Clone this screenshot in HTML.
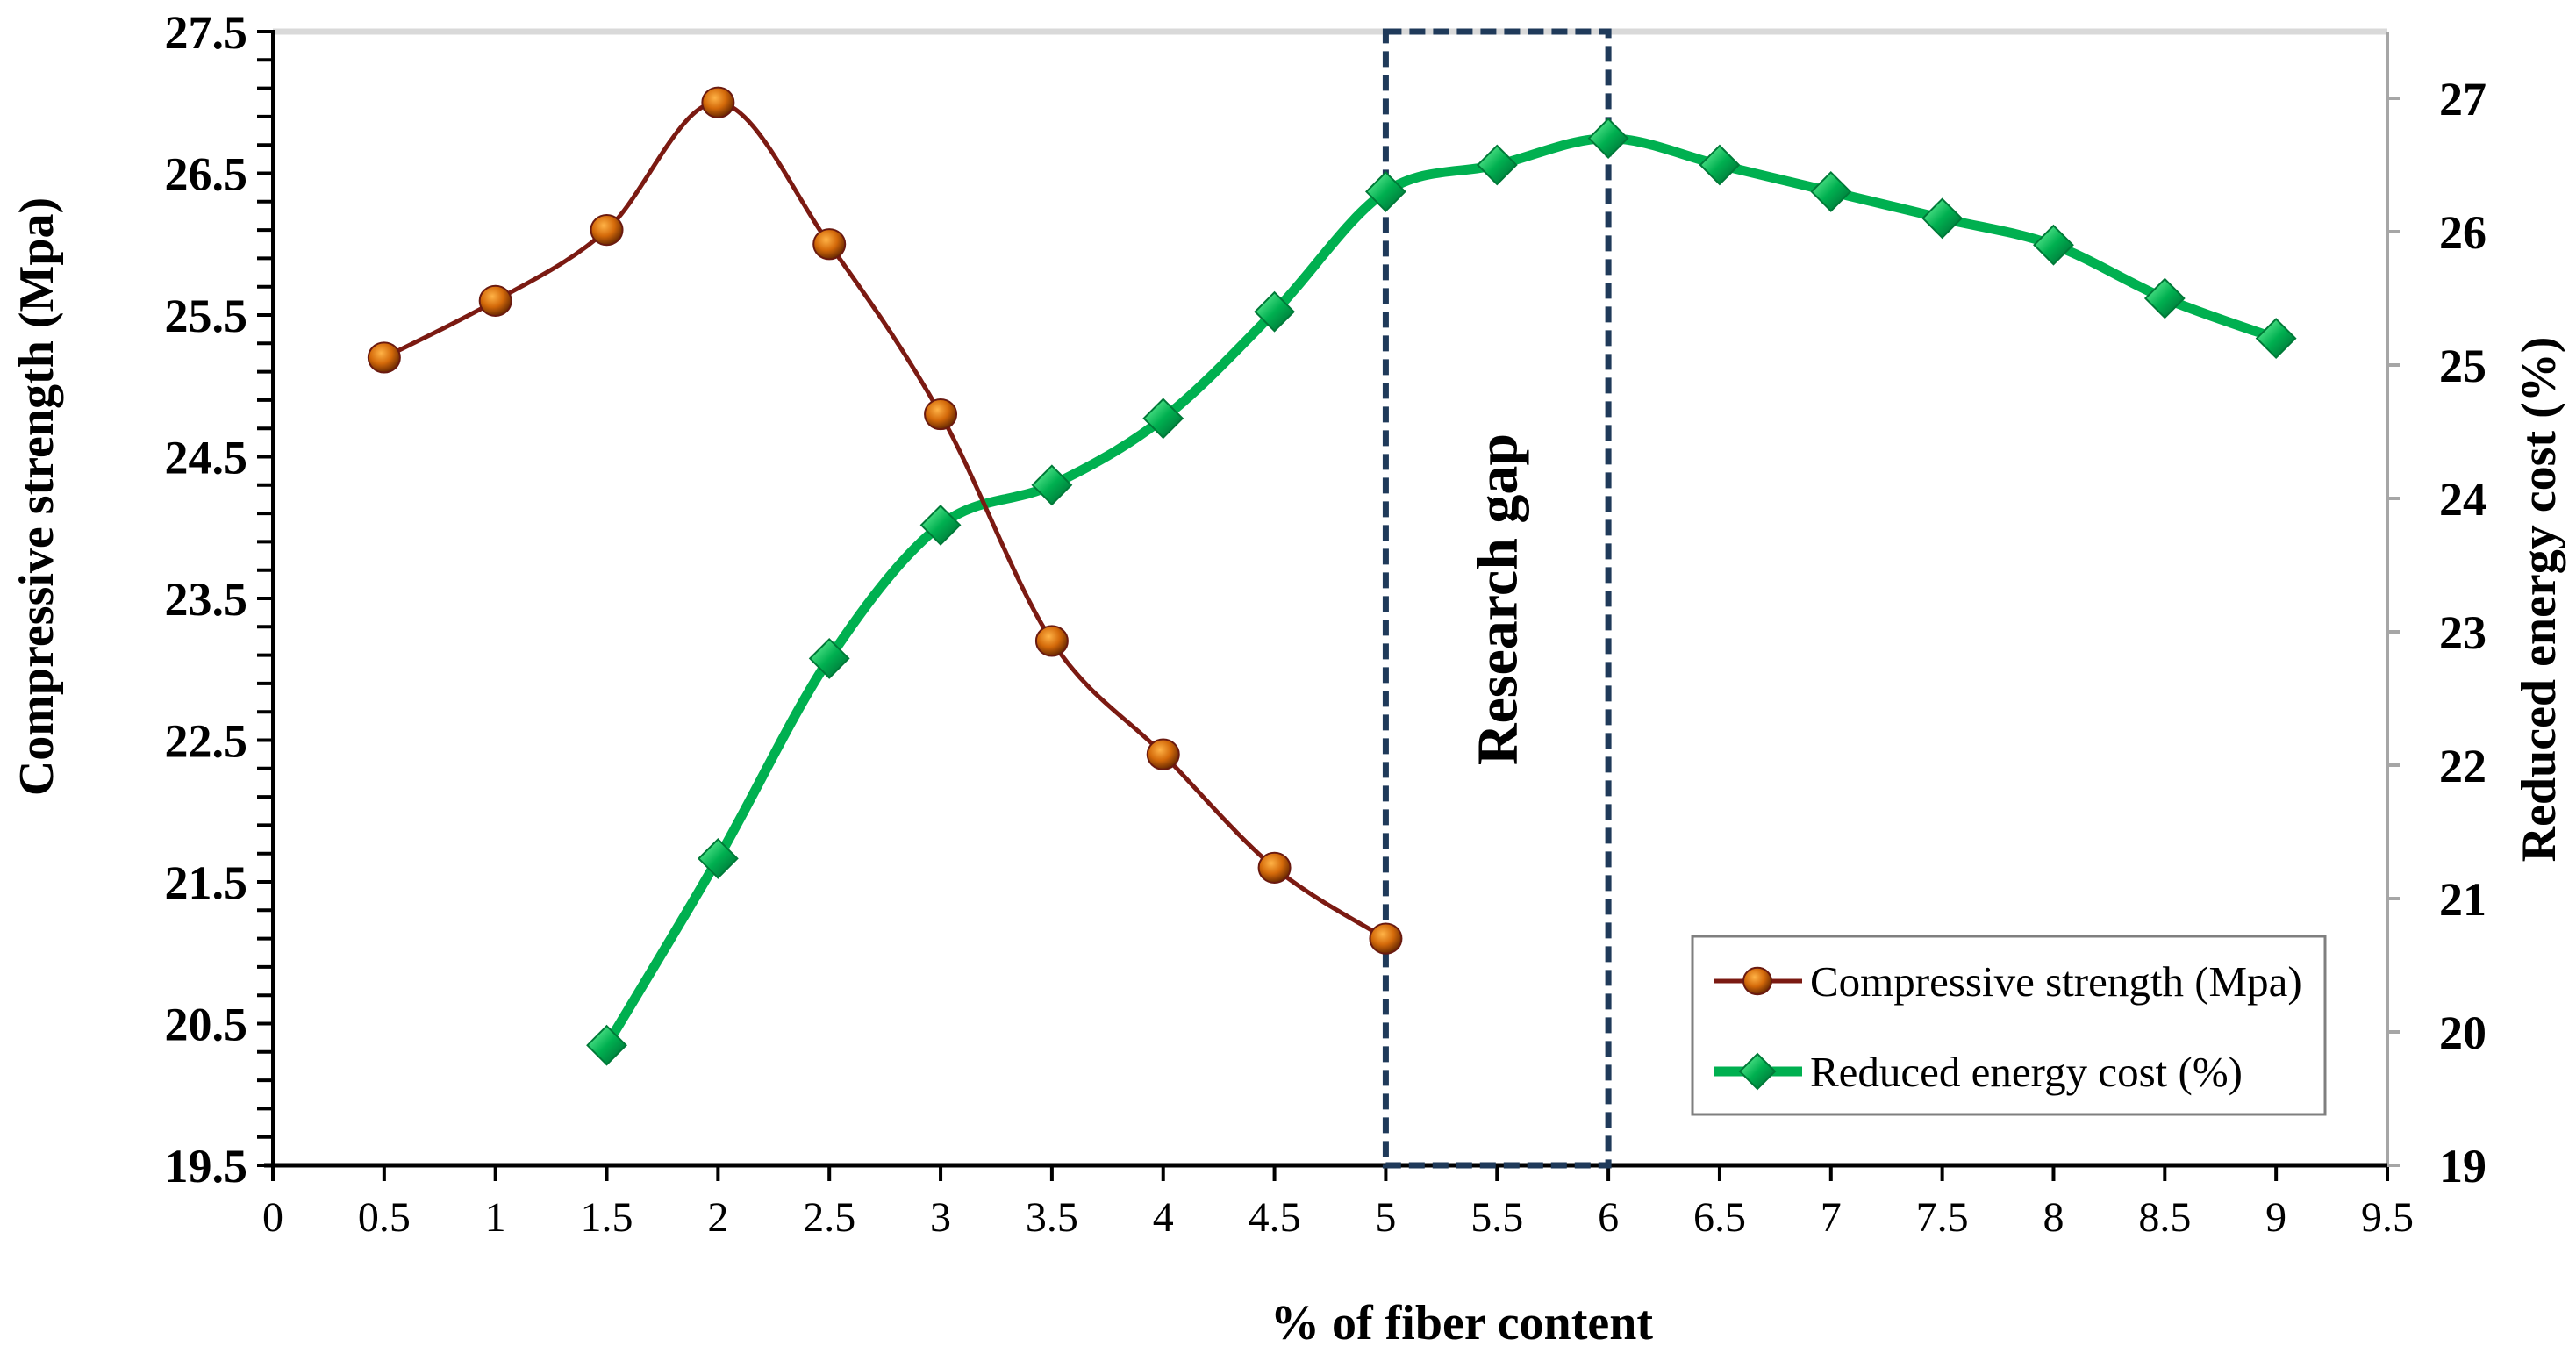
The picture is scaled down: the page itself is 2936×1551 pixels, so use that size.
<!DOCTYPE html>
<html><head><meta charset="utf-8"><style>
html,body{margin:0;padding:0;background:#fff;}
svg{display:block;font-family:"Liberation Serif",serif;}
</style></head><body>
<svg id="chart" width="2936" height="1551" viewBox="0 0 2936 1551" xmlns="http://www.w3.org/2000/svg">
<defs>
<radialGradient id="ball" cx="0.4" cy="0.35" r="0.7"><stop offset="0" stop-color="#ffb347"/><stop offset="0.5" stop-color="#d46a0a"/><stop offset="1" stop-color="#5a2000"/></radialGradient>
<linearGradient id="dia" x1="0" y1="0" x2="1" y2="1"><stop offset="0" stop-color="#7dffa8"/><stop offset="0.5" stop-color="#00b050"/><stop offset="1" stop-color="#006030"/></linearGradient>
</defs>
<g id="axes"></g>
<g id="series"></g>
</svg>
<script>
const xTicks=[0,0.5,1,1.5,2,2.5,3,3.5,4,4.5,5,5.5,6,6.5,7,7.5,8,8.5,9,9.5];
const leftTickLabels=["19.5","20.5","21.5","22.5","23.5","24.5","25.5","26.5","27.5"];
const rightTickLabels=["19","20","21","22","23","24","25","26","27"];
const strengthX=[0.5,1,1.5,2,2.5,3,3.5,4,4.5,5];
const strengthY=[25.2,25.6,26.1,27.0,26.0,24.8,23.2,22.4,21.6,21.1];
const energyX=[1.5,2,2.5,3,3.5,4,4.5,5,5.5,6,6.5,7,7.5,8,8.5,9];
const energyY=[19.9,21.3,22.8,23.8,24.1,24.6,25.4,26.3,26.5,26.7,26.5,26.3,26.1,25.9,25.5,25.2];
const gapRange=[5,6];

const L=311,R=2721,T=36,B=1328;
const xS=v=>L+(v-0)/9.5*(R-L);
const yL=v=>B-(v-19.5)/8*(B-T);
const yR=v=>B-(v-19)/8.5*(B-T);
const NS="http://www.w3.org/2000/svg";
function mk(tag,attrs,parent,text){const e=document.createElementNS(NS,tag);for(const k in attrs)e.setAttribute(k,attrs[k]);if(text!==undefined)e.textContent=text;parent.appendChild(e);return e;}
const ax=document.getElementById('axes'), sr=document.getElementById('series'), svg=document.getElementById('chart');

let e;
e=mk('line',{x1:L,y1:T,x2:R,y2:T,stroke:'#d9d9d9','stroke-width':7},ax);


e=mk('line',{x1:R,y1:T,x2:R,y2:B,stroke:'#a6a6a6','stroke-width':4},ax);


e=mk('line',{x1:L,y1:T-2,x2:L,y2:B,stroke:'#000','stroke-width':4},ax);


e=mk('line',{x1:L-10,y1:B,x2:R,y2:B,stroke:'#000','stroke-width':5},ax);



xTicks.forEach(v=>{
 mk('line',{x1:xS(v),y1:B,x2:xS(v),y2:B+18,stroke:'#000','stroke-width':4},ax);
 e=mk('text',{x:xS(v),y:1403,'text-anchor':'middle','font-size':48},ax,String(v));
 
 
});
for(let i=0;i<=40;i++){const v=19.5+i*0.2;mk('line',{x1:L-18,y1:yL(v),x2:L,y2:yL(v),stroke:'#000','stroke-width':4},ax);}
leftTickLabels.forEach(s=>{
 e=mk('text',{x:282,y:yL(parseFloat(s))+19,'text-anchor':'end','font-size':54,'font-weight':'bold'},ax,s);
 
 
});
rightTickLabels.forEach(s=>{
 const v=parseFloat(s);
 mk('line',{x1:R,y1:yR(v),x2:R+14,y2:yR(v),stroke:'#a6a6a6','stroke-width':4},ax);
 e=mk('text',{x:2780,y:yR(v)+19,'font-size':54,'font-weight':'bold'},ax,s);
 
 
});
e=mk('text',{x:1666,y:1526,'text-anchor':'middle','font-size':56,'font-weight':'bold'},ax,'%  of fiber content');


e=mk('text',{x:0,y:0,'text-anchor':'middle','font-size':56,'font-weight':'bold',transform:'translate(60,566) rotate(-90)'},ax,'Compressive strength (Mpa)');


e=mk('text',{x:0,y:0,'text-anchor':'middle','font-size':56,'font-weight':'bold',transform:'translate(2912,683) rotate(-90)'},ax,'Reduced energy cost (%)');



e=mk('rect',{x:xS(gapRange[0]),y:T,width:xS(gapRange[1])-xS(gapRange[0]),height:B-T,fill:'none',stroke:'#1f3a5a','stroke-width':7,'stroke-dasharray':'18 9'},sr);


e=mk('text',{x:0,y:0,'text-anchor':'middle','font-size':66,'font-weight':'bold',transform:'translate('+((xS(gapRange[0])+xS(gapRange[1]))/2+22)+',683) rotate(-90)'},sr,'Research gap');



function smooth(pts){let d='M'+pts[0][0]+','+pts[0][1];for(let i=0;i<pts.length-1;i++){const p0=pts[i-1]||pts[i],p1=pts[i],p2=pts[i+1],p3=pts[i+2]||p2;const c1=[p1[0]+(p2[0]-p0[0])/6,p1[1]+(p2[1]-p0[1])/6],c2=[p2[0]-(p3[0]-p1[0])/6,p2[1]-(p3[1]-p1[1])/6];d+=' C'+c1+' '+c2+' '+p2;}return d;}
const gP=energyX.map((x,i)=>[xS(x),yR(energyY[i])]);
e=mk('path',{d:smooth(gP),fill:'none',stroke:'#00b050','stroke-width':11},sr);


const rP=strengthX.map((x,i)=>[xS(x),yL(strengthY[i])]);
e=mk('path',{d:smooth(rP),fill:'none',stroke:'#7b1a12','stroke-width':5},sr);


function diamond(x,y,p,s){return mk('path',{d:`M${x},${y-s} L${x+s},${y} L${x},${y+s} L${x-s},${y} Z`,fill:'url(#dia)',stroke:'#007a38','stroke-width':2},p);}
function ball(x,y,p,r){return mk('ellipse',{cx:x,cy:y,rx:r,ry:r*0.95,fill:'url(#ball)',stroke:'#6a1a10','stroke-width':2},p);}
gP.forEach(p=>{e=diamond(p[0],p[1],sr,22);
 
 });
rP.forEach(p=>{e=ball(p[0],p[1],sr,18);
 
 });

const lg=mk('g',{},svg);


mk('rect',{x:1929,y:1067,width:721,height:203,fill:'#fff',stroke:'#7f7f7f','stroke-width':3},lg);
mk('line',{x1:1953,y1:1118,x2:2054,y2:1118,stroke:'#7b1a12','stroke-width':5},lg);
ball(2003,1118,lg,16);
e=mk('text',{x:2063,y:1135,'font-size':49},lg,'Compressive strength (Mpa)');


mk('line',{x1:1953,y1:1221,x2:2054,y2:1221,stroke:'#00b050','stroke-width':11},lg);
diamond(2003,1221,lg,20);
e=mk('text',{x:2063,y:1238,'font-size':49},lg,'Reduced energy cost (%)');


</script>
</body></html>
